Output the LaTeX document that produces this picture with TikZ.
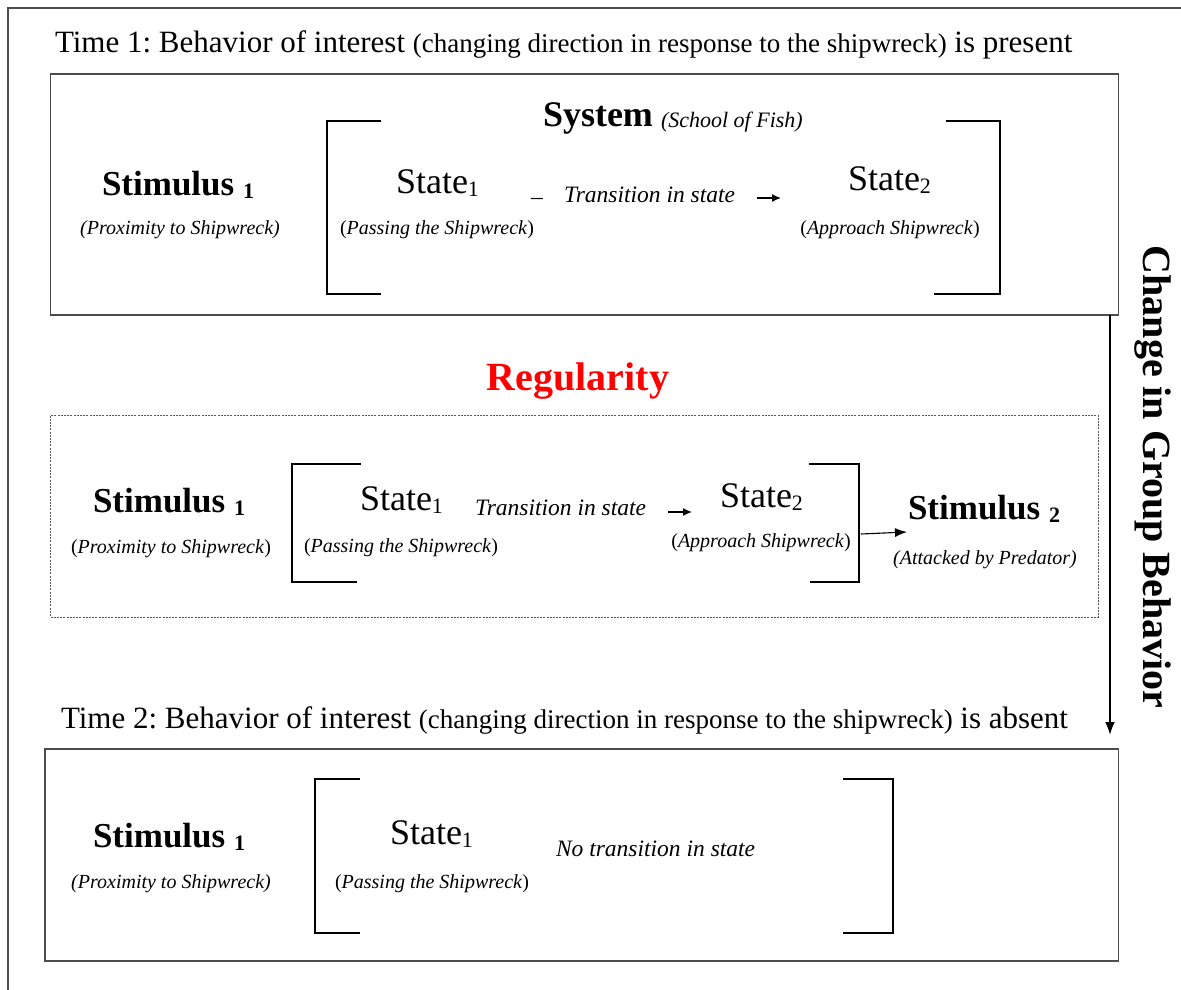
\documentclass[tikz,border=0pt]{standalone}
\usepackage{fontspec}
\setmainfont{Liberation Serif}
\usetikzlibrary{arrows.meta}
\frenchspacing

% font size helper (size in pt, baseline = size)
\newcommand\fsz[1]{\fontsize{#1}{#1}\selectfont}
% lowered index used after "Stimulus" and "State"
\newcommand\lowsub[1]{\raisebox{-3.5pt}{\fsz{22}#1}}

\tikzset{
  txt/.style={inner sep=0pt, outer sep=0pt},
  panel/.style={draw=black!70, line width=1.1pt, inner sep=0pt, outer sep=0pt},
  dotpanel/.style={draw=black!65, line width=0.9pt, dash pattern=on 2pt off 1.2pt, inner sep=0pt, outer sep=0pt},
  bracketline/.style={line width=2.6pt, black},
  stimtxt/.style={txt, anchor=base west, font=\fsz{35}\bfseries},
  statetxt/.style={txt, anchor=base west, font=\fsz{36}},
  note/.style={txt, font=\fsz{20}},
  transtxt/.style={txt, anchor=base west, font=\fsz{23.5}\itshape},
  headline/.style={txt, anchor=base west},
  smallarr/.style={line width=1.4pt, -{Latex[length=9pt,width=8pt]}},
  linkarr/.style={line width=1.1pt, -{Latex[length=12pt,width=9pt]}},
  flowarr/.style={line width=2pt, -{Latex[length=13pt,width=10pt]}},
}

\begin{document}
\begin{tikzpicture}[x=1pt, y=-1pt]
\useasboundingbox (0,0) rectangle (1181,990);
\fill[white] (0,0) rectangle (1181,990);

% outer frame (open to the right and bottom)
\draw[black!70, line width=1.1pt] (8,990) -- (8,8) -- (1181,8);

% ---------------- Time 1 ----------------
\node[headline] (head1) at (55,53)
  {\fsz{31}Time 1: Behavior of interest {\fsz{27}(changing direction in response to the shipwreck)} is present};

\node[panel, minimum width=1068pt, minimum height=241pt] (box1) at (584.5,194.5) {};

\draw[bracketline] (381,121) -- (327,121) -- (327,294) -- (381,294);
\draw[bracketline] (946,121) -- (1000,121) -- (1000,294) -- (934,294);

\node[txt, anchor=base west, font=\fsz{36}\bfseries] (sys) at (543,126) {System};
\node[txt, anchor=base west, font=\fsz{22}\itshape] (sysnote) at (661,128) {(School of Fish)};

\node[stimtxt] (stimA) at (102,195) {Stimulus \lowsub{1}};
\node[note, font=\fsz{20}\itshape] (stimAnote) at (180,230) {(Proximity to Shipwreck)};

\node[statetxt] (stA1) at (396,193) {State\lowsub{1}};
\node[note] (stA1note) at (437,230) {(\textit{Passing the Shipwreck})};

\node[txt, anchor=base west, font=\fsz{23.5}] (dashA) at (531,204) {–};
\node[transtxt] (transA) at (564,202) {Transition in state};
\coordinate (tA0) at (757,198);
\coordinate (tA1) at (781,198);
\draw[smallarr] (tA0) -- (tA1);

\node[statetxt] (stA2) at (848,190) {State\lowsub{2}};
\node[note] (stA2note) at (890,230) {(\textit{Approach Shipwreck})};

% ---------------- Regularity ----------------
\node[txt, font=\fsz{40}\bfseries, text=red] (reg) at (578,381) {Regularity};

\node[dotpanel, minimum width=1047.5pt, minimum height=202pt] (box2) at (574.25,516) {};

\draw[bracketline] (361,464) -- (292,464) -- (292,582) -- (357,582);
\draw[bracketline] (809,464) -- (859,464) -- (859,582) -- (810,582);

\node[stimtxt] (stimB) at (93,512) {Stimulus \lowsub{1}};
\node[note] (stimBnote) at (171,549) {(\textit{Proximity to Shipwreck})};

\node[statetxt] (stB1) at (360,510) {State\lowsub{1}};
\node[note] (stB1note) at (401,548) {(\textit{Passing the Shipwreck})};

\node[transtxt] (transB) at (475,515) {Transition in state};
\coordinate (tB0) at (668,512);
\coordinate (tB1) at (692,512);
\draw[smallarr] (tB0) -- (tB1);

\node[statetxt] (stB2) at (720,507) {State\lowsub{2}};
\node[note] (stB2note) at (761,543) {(\textit{Approach Shipwreck})};

\node[stimtxt] (stimC) at (908,519) {Stimulus \lowsub{2}};
\node[note, font=\fsz{20}\itshape] (stimCnote) at (985,560) {(Attacked by Predator)};

\coordinate (brOut) at (861,534);
\coordinate (stimCin) at (907,532);
\draw[linkarr] (brOut) -- (stimCin);

% ---------------- change arrow ----------------
\coordinate (flowEnd) at (1110,735);
\draw[flowarr] (box1.south -| flowEnd) -- (flowEnd);
\node[txt, rotate=-90, font=\fsz{40}\bfseries] (change) at (1153,477) {Change in Group Behavior};

% ---------------- Time 2 ----------------
\node[headline] (head2) at (61,728)
  {\fsz{31}Time 2: Behavior of interest {\fsz{27}(changing direction in response to the shipwreck)} is absent};

\node[panel, minimum width=1073.5pt, minimum height=212pt] (box3) at (581.75,855) {};

\draw[bracketline] (360,779) -- (315,779) -- (315,933) -- (360,933);
\draw[bracketline] (843,779) -- (893,779) -- (893,933) -- (843,933);

\node[stimtxt] (stimD) at (93,847) {Stimulus \lowsub{1}};
\node[note, font=\fsz{20}\itshape] (stimDnote) at (171,884) {(Proximity to Shipwreck)};

\node[statetxt] (stD1) at (390,844) {State\lowsub{1}};
\node[note] (stD1note) at (432,884) {(\textit{Passing the Shipwreck})};

\node[transtxt] (transD) at (556,856) {No transition in state};

\end{tikzpicture}
\end{document}
